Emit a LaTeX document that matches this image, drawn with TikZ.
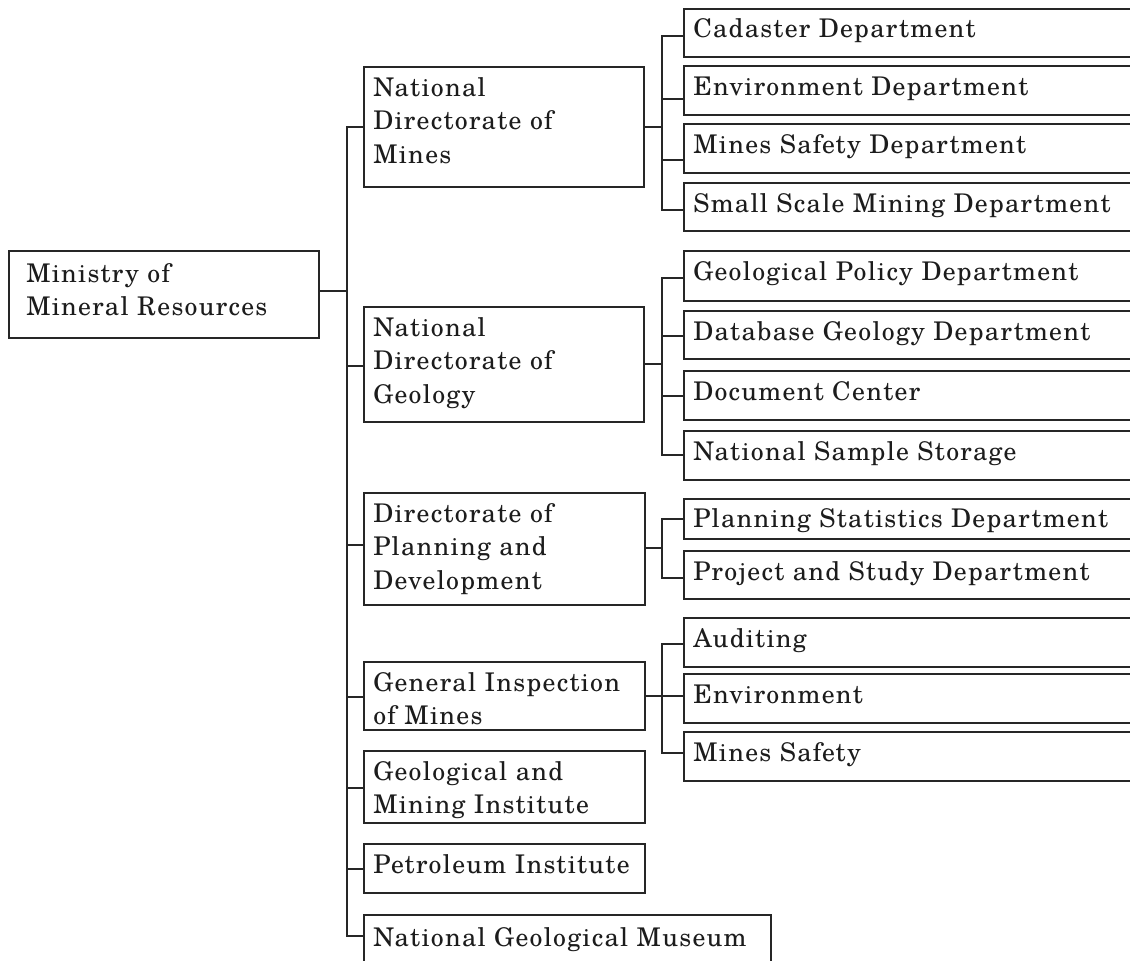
\documentclass[tikz,border=0pt]{standalone}
\usepackage{fontspec}
\usetikzlibrary{calc}

% wide schoolbook face, tracked out a little
\newfontfamily\orgfont{TeX Gyre Schola}[LetterSpace=5]

% strut that fixes the height of the first text line above its baseline
\newcommand\firstlinestrut{\rule{0pt}{15pt}}

% #1 name, #2 x, #3 y (top), #4 width, #5 height, #6 left inset, #7 top inset, #8 text
\newcommand\orgunit[8]{%
  \node[orgbox, minimum width=#4*0.75pt, minimum height=#5*0.75pt] (#1) at (#2,#3) {};
  \node[orgtext] (#1-label) at ([xshift=#6*0.75pt, yshift=-#7*0.75pt]#1.north west) {\firstlinestrut #8};
}

\definecolor{inkline}{HTML}{262626}
\definecolor{inktext}{HTML}{1C1C1C}

\tikzset{
  orgbox/.style={draw=inkline, line width=1.5pt, anchor=north west, inner sep=0pt, rectangle},
  orgtext/.style={anchor=north west, inner sep=0pt, align=left, text=inktext,
    font=\orgfont\fontsize{19.3}{25.1}\selectfont},
  link/.style={draw=inkline, line width=1.5pt, line cap=rect}
}

\begin{document}
\begin{tikzpicture}[x=0.75pt, y=-0.75pt]
  \useasboundingbox (0,0) rectangle (1130,960);
  \clip (0,0) rectangle (1130,960);

  % ministry
  \orgunit{root}{8}{250}{310}{87}{18}{12}{Ministry of\\Mineral Resources}

  % directorates and institutes
  \orgunit{ndm}{363}{66}{280}{120}{10}{10}{National\\Directorate of\\Mines}
  \orgunit{ndg}{363}{306}{280}{115}{10}{10}{National\\Directorate of\\Geology}
  \orgunit{dpd}{363}{492}{281}{112}{10}{10}{Directorate of\\Planning and\\Development}
  \orgunit{gim}{363}{661}{281}{68}{10}{10}{General Inspection\\of Mines}
  \orgunit{gmi}{363}{750}{281}{72}{10}{10}{Geological and\\Mining Institute}
  \orgunit{pi}{363}{843}{281}{49}{10}{10}{Petroleum Institute}
  \orgunit{ngm}{363}{914}{407}{60}{10}{12}{National Geological Museum}

  % departments of the National Directorate of Mines
  \orgunit{cad}{683}{8}{470}{48}{10}{9}{Cadaster Department}
  \orgunit{env}{683}{65}{470}{49}{10}{10}{Environment Department}
  \orgunit{msd}{683}{123}{470}{49}{10}{10}{Mines Safety Department}
  \orgunit{ssm}{683}{182}{470}{48}{10}{10}{Small Scale Mining Department}

  % departments of the National Directorate of Geology
  \orgunit{gpd}{683}{250}{470}{50}{10}{10}{Geological Policy Department}
  \orgunit{dgd}{683}{310}{470}{48}{10}{10}{Database Geology Department}
  \orgunit{dc}{683}{370}{470}{49}{10}{10}{Document Center}
  \orgunit{nss}{683}{430}{470}{49}{10}{10}{National Sample Storage}

  % departments of the Directorate of Planning and Development
  \orgunit{psd}{683}{498}{470}{40}{10}{9}{Planning Statistics Department}
  \orgunit{pasd}{683}{550}{470}{48}{10}{10}{Project and Study Department}

  % units of the General Inspection of Mines
  \orgunit{aud}{683}{617}{470}{49}{10}{10}{Auditing}
  \orgunit{envi}{683}{673}{470}{49}{10}{10}{Environment}
  \orgunit{ms}{683}{731}{470}{49}{10}{10}{Mines Safety}

  % trunk from the ministry
  \coordinate (root-out) at ($(root.east)+(0,-3.5)$);
  \coordinate (trunk) at ($(root-out)+(27,0)$);
  \draw[link] (root-out) -- (trunk);
  \foreach \n/\o in {ndm/0, ndg/1.5, dpd/-4, gim/1, gmi/1, pi/0.5, ngm/-9} {
    \coordinate (\n-in) at ($(\n.west)+(0,\o)$);
    \draw[link] (trunk |- \n-in) -- (\n-in);
  }
  \draw[link] (trunk |- ndm-in) -- (trunk |- ngm-in);

  % branches to the departments
  \coordinate (ndm-bus) at ($(ndm.east)+(17,0)$);
  \draw[link] (ndm.east) -- (ndm-bus);
  \foreach \c/\o in {cad/3, env/8.5, msd/11.5, ssm/3} {
    \coordinate (\c-in) at ($(\c.west)+(0,\o)$);
    \draw[link] (ndm-bus |- \c-in) -- (\c-in);
  }
  \draw[link] (ndm-bus |- cad-in) -- (ndm-bus |- ssm-in);

  \coordinate (ndg-out) at ($(ndg.east)+(0,-0.5)$);
  \coordinate (ndg-bus) at ($(ndg-out)+(17,0)$);
  \draw[link] (ndg-out) -- (ndg-bus);
  \foreach \c/\o in {gpd/2, dgd/1, dc/0.5, nss/-0.5} {
    \coordinate (\c-in) at ($(\c.west)+(0,\o)$);
    \draw[link] (ndg-bus |- \c-in) -- (\c-in);
  }
  \draw[link] (ndg-bus |- gpd-in) -- (ndg-bus |- nss-in);

  \coordinate (dpd-out) at ($(dpd.east)+(0,-1)$);
  \coordinate (dpd-bus) at ($(dpd-out)+(16,0)$);
  \draw[link] (dpd-out) -- (dpd-bus);
  \foreach \c/\o in {psd/0, pasd/3} {
    \coordinate (\c-in) at ($(\c.west)+(0,\o)$);
    \draw[link] (dpd-bus |- \c-in) -- (\c-in);
  }
  \draw[link] (dpd-bus |- psd-in) -- (dpd-bus |- pasd-in);

  \coordinate (gim-bus) at ($(gim.east)+(16,0)$);
  \draw[link] (gim.east) -- (gim-bus);
  \foreach \c/\o in {aud/1.5, envi/-2.5, ms/-3.5} {
    \coordinate (\c-in) at ($(\c.west)+(0,\o)$);
    \draw[link] (gim-bus |- \c-in) -- (\c-in);
  }
  \draw[link] (gim-bus |- aud-in) -- (gim-bus |- ms-in);
\end{tikzpicture}
\end{document}
